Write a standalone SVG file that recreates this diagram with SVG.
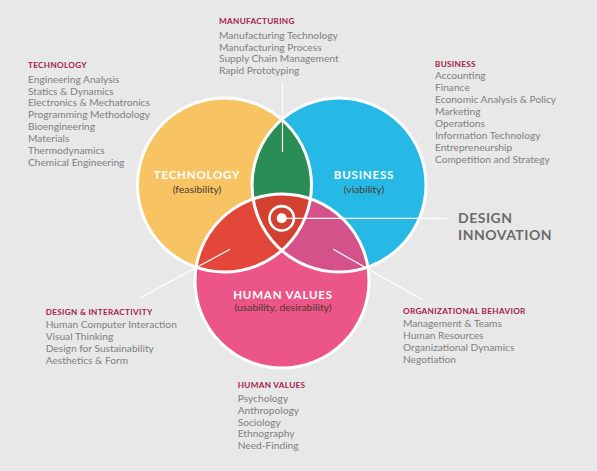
<svg xmlns="http://www.w3.org/2000/svg" width="597" height="471" viewBox="0 0 597 471">
<defs>
<style>
.h{font-family:Lato,"Liberation Sans",sans-serif;font-weight:bold;font-size:8.2px;fill:#a5204a;letter-spacing:0.3px}
.t{font-family:Lato,"Liberation Sans",sans-serif;font-size:10.2px;fill:#808080}
.cl{font-family:Lato,"Liberation Sans",sans-serif;font-weight:bold;font-size:11.5px;fill:#ffffff;letter-spacing:0.8px;text-anchor:middle}
.cs{font-family:Lato,"Liberation Sans",sans-serif;font-size:10.4px;fill:#4a3a30;text-anchor:middle}
.di{font-family:Lato,"Liberation Sans",sans-serif;font-weight:bold;font-size:14px;fill:#6b6b6b;letter-spacing:0.5px}
.ln{stroke:#ffffff;stroke-width:1.2;fill:none}
.rim{fill:none;stroke:#ffffff;stroke-width:3}
</style>
<clipPath id="cT"><circle cx="224.5" cy="185" r="87"/></clipPath>
<clipPath id="cB"><circle cx="339" cy="185" r="87"/></clipPath>
<clipPath id="cH"><circle cx="282" cy="281" r="87"/></clipPath>
</defs>
<rect width="597" height="471" fill="#e8e8e8"/>

<g id="venn">
<circle id="tech" cx="224.5" cy="185" r="87" fill="#f8c363"/>
<circle id="business" cx="339" cy="185" r="87" fill="#27b9e6"/>
<circle id="human" cx="282" cy="281" r="87" fill="#eb5587"/>
<circle cx="224.5" cy="185" r="87" fill="#2a8d56" clip-path="url(#cB)"/>
<circle cx="282" cy="281" r="87" fill="#e3473a" clip-path="url(#cT)"/>
<circle cx="282" cy="281" r="87" fill="#d4518a" clip-path="url(#cB)"/>
<g clip-path="url(#cT)"><circle cx="282" cy="281" r="87" fill="#d2402f" clip-path="url(#cB)"/></g>
<circle class="rim" cx="224.5" cy="185" r="87"/>
<circle class="rim" cx="339" cy="185" r="87"/>
<circle class="rim" cx="282" cy="281" r="87"/>
</g>

<g id="connectors">
<line class="ln" x1="282.5" y1="82" x2="282.5" y2="152"/>
<line class="ln" x1="282" y1="218.3" x2="447" y2="218.3"/>
<line class="ln" x1="230" y1="249.3" x2="140" y2="298"/>
<line class="ln" x1="333.3" y1="249.3" x2="423" y2="300"/>
</g>

<g id="target">
<circle cx="281.7" cy="218.3" r="12.2" fill="none" stroke="#ffffff" stroke-width="2.6"/>
<circle cx="281.7" cy="218.3" r="5" fill="#ffffff"/>
</g>

<g id="labels">
<text class="cl" x="197" y="179">TECHNOLOGY</text>
<text class="cs" x="197" y="192.8">(feasibility)</text>
<text class="cl" x="364" y="179">BUSINESS</text>
<text class="cs" x="364" y="192.8">(viability)</text>
<text class="cl" x="283" y="298.5">HUMAN VALUES</text>
<text class="cs" x="283" y="310.8">(usability, desirability)</text>
</g>

<g id="technology-list">
<text class="h" x="28" y="68">TECHNOLOGY</text>
<text class="t" x="28" y="82.6">Engineering Analysis</text>
<text class="t" x="28" y="94.5">Statics &amp; Dynamics</text>
<text class="t" x="28" y="106.4">Electronics &amp; Mechatronics</text>
<text class="t" x="28" y="118.2">Programming Methodology</text>
<text class="t" x="28" y="130.1">Bioengineering</text>
<text class="t" x="28" y="142">Materials</text>
<text class="t" x="28" y="153.8">Thermodynamics</text>
<text class="t" x="28" y="165.7">Chemical Engineering</text>
</g>

<g id="manufacturing-list">
<text class="h" x="219" y="24">MANUFACTURING</text>
<text class="t" x="219" y="38.5">Manufacturing Technology</text>
<text class="t" x="219" y="50.5">Manufacturing Process</text>
<text class="t" x="219" y="62.3">Supply Chain Management</text>
<text class="t" x="219" y="74.3">Rapid Prototyping</text>
</g>

<g id="business-list">
<text class="h" x="435" y="67">BUSINESS</text>
<text class="t" x="435" y="79">Accounting</text>
<text class="t" x="435" y="91">Finance</text>
<text class="t" x="435" y="103">Economic Analysis &amp; Policy</text>
<text class="t" x="435" y="115">Marketing</text>
<text class="t" x="435" y="127">Operations</text>
<text class="t" x="435" y="139">Information Technology</text>
<text class="t" x="435" y="151">Entrepreneurship</text>
<text class="t" x="435" y="163">Competition and Strategy</text>
</g>

<g id="design-innovation">
<text class="di" x="458" y="222.7">DESIGN</text>
<text class="di" x="458" y="240">INNOVATION</text>
</g>

<g id="design-interactivity-list">
<text class="h" x="45.7" y="314.7">DESIGN &amp; INTERACTIVITY</text>
<text class="t" x="45.7" y="328.4">Human Computer Interaction</text>
<text class="t" x="45.7" y="340.2">Visual Thinking</text>
<text class="t" x="45.7" y="351.9">Design for Sustainability</text>
<text class="t" x="45.7" y="363.6">Aesthetics &amp; Form</text>
</g>

<g id="organizational-list">
<text class="h" x="403" y="314">ORGANIZATIONAL BEHAVIOR</text>
<text class="t" x="403" y="326.7">Management &amp; Teams</text>
<text class="t" x="403" y="338.8">Human Resources</text>
<text class="t" x="403" y="350.8">Organizational Dynamics</text>
<text class="t" x="403" y="362.6">Negotiation</text>
</g>

<g id="human-values-list">
<text class="h" x="237.7" y="388">HUMAN VALUES</text>
<text class="t" x="237.7" y="401.7">Psychology</text>
<text class="t" x="237.7" y="413.6">Anthropology</text>
<text class="t" x="237.7" y="425.5">Sociology</text>
<text class="t" x="237.7" y="437.4">Ethnography</text>
<text class="t" x="237.7" y="449.4">Need-Finding</text>
</g>
</svg>
